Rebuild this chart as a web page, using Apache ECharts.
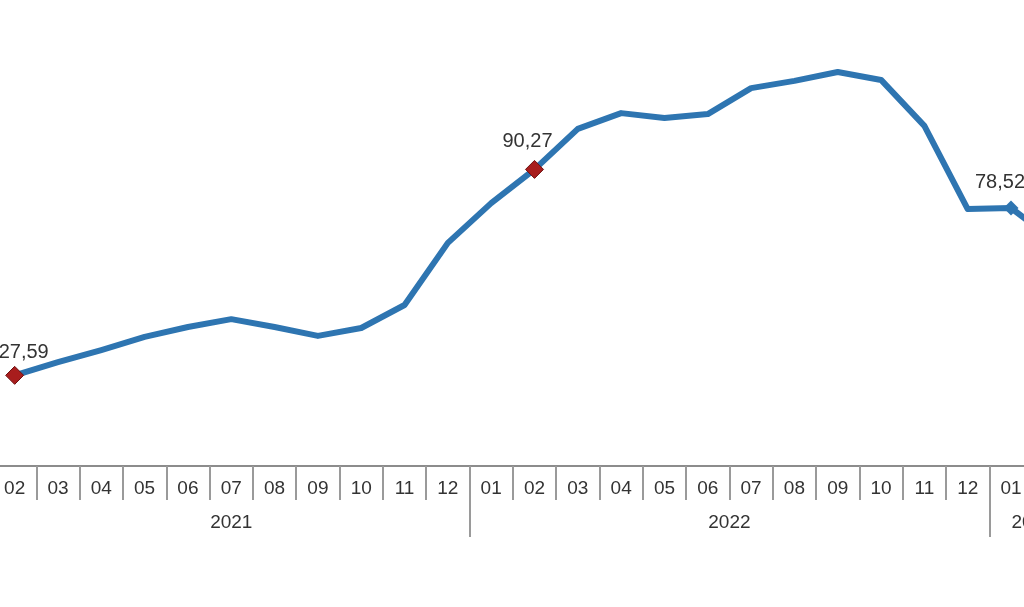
<!DOCTYPE html>
<html>
<head>
<meta charset="utf-8">
<script src="https://cdn.jsdelivr.net/npm/echarts@6/dist/echarts.min.js"></script>
<style>
  html, body { margin: 0; padding: 0; background: #ffffff; overflow: hidden; width: 1024px; height: 607px; }
  #chart { position: absolute; top: 0; left: -7.3px; width: 1083px; height: 607px; }
</style>
</head>
<body>
<div id="chart"></div>
<script>
// ---- data ----
const months = ['02','03','04','05','06','07','08','09','10','11','12',
                '01','02','03','04','05','06','07','08','09','10','11','12',
                '01','02'];
const years  = ['2021','2021','2021','2021','2021','2021','2021','2021','2021','2021','2021',
                '2022','2022','2022','2022','2022','2022','2022','2022','2022','2022','2022','2022',
                '2023','2023'];
const values = [27.59, 31.6, 35.3, 39.3, 42.3, 44.7, 42.3, 39.6, 42.0, 49.0, 67.9,
                80.0, 90.27, 102.6, 107.4, 105.9, 107.1, 115.0, 117.2, 119.9, 117.5, 103.5, 78.2,
                78.52, 68.5];
const markedRed  = ['2021-02', '2022-02'];
const markedBlue = ['2023-01'];

// ---- build ----
const categories = months.map((m, i) => years[i] + '-' + m);

// year label placement: centre of each year's band
const yearLabelIdx = {};
const uniqYears = [...new Set(years)];
uniqYears.forEach(y => {
  const idx = years.map((v, i) => v === y ? i : -1).filter(i => i >= 0);
  const mid = (idx[0] + idx[idx.length - 1]) / 2;
  yearLabelIdx[Math.floor(mid)] = { year: y, half: mid % 1 !== 0 };
});

const LINE = '#2e75b1';
const RED = '#a81d1d';
const FONT = 'Liberation Sans, Arial, sans-serif';
const labelOffsets = { '2021-02': [9, 2.5], '2022-02': [-7, -2.5], '2023-01': [-11, -2] };

const seriesData = values.map((v, i) => {
  const c = categories[i];
  const isRed = markedRed.includes(c);
  const isBlue = markedBlue.includes(c);
  if (!isRed && !isBlue) return { value: v, symbol: 'none' };
  return {
    value: v,
    symbol: 'diamond',
    symbolSize: isRed ? 18 : 15,
    itemStyle: isRed ? { color: RED, borderColor: '#6e1010', borderWidth: 1 } : { color: LINE },
    label: {
      show: true, position: 'top', distance: 6,
      offset: labelOffsets[c] || [0, 0],
      formatter: p => String(p.value).replace('.', ','),
      color: '#333', fontSize: 20, fontFamily: FONT
    }
  };
});

const BAND = 1083 / categories.length;

const chart = echarts.init(document.getElementById('chart'), null, { renderer: 'canvas' });
chart.setOption({
  animation: false,
  backgroundColor: '#ffffff',
  grid: { left: 0, right: 0, top: 6, bottom: 141, containLabel: false },
  xAxis: [
    {
      type: 'category', data: categories, boundaryGap: true, position: 'bottom',
      axisLine: { show: true, lineStyle: { color: '#8c8c8c', width: 2 } },
      axisTick: { show: true, interval: 0, length: 34, lineStyle: { color: '#9a9a9a', width: 2 } },
      axisLabel: {
        interval: 0, margin: 13, color: '#333', fontSize: 19, fontFamily: FONT,
        formatter: v => v.split('-')[1]
      },
      splitLine: { show: false }
    },
    {
      type: 'category', data: categories, boundaryGap: true, position: 'bottom',
      axisLine: { show: false },
      axisTick: {
        show: true, length: 71,
        interval: (i) => months[i] === '01',
        lineStyle: { color: '#9a9a9a', width: 2 }
      },
      axisLabel: {
        margin: 47, color: '#333', fontSize: 19, fontFamily: FONT,
        interval: (i) => yearLabelIdx[i] !== undefined,
        formatter: (v, i) => {
          const e = yearLabelIdx[i];
          if (!e) return '';
          return e.half ? '{h|' + e.year + '}' : e.year;
        },
        rich: {
          h: { padding: [0, 0, 0, BAND], fontSize: 19, color: '#333', fontFamily: FONT }
        }
      },
      splitLine: { show: false }
    }
  ],
  yAxis: { type: 'value', min: 0, max: 140, show: false, splitLine: { show: false } },
  series: [{
    type: 'line',
    xAxisIndex: 0,
    data: seriesData,
    showSymbol: true,
    symbol: 'none',
    lineStyle: { color: LINE, width: 6, join: 'round' },
    itemStyle: { color: LINE },
    z: 3
  }]
});
</script>
</body>
</html>
